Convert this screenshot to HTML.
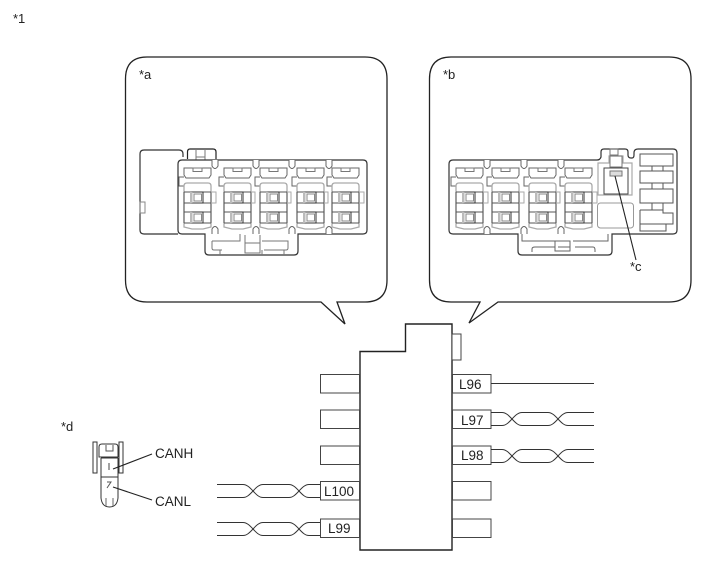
<!DOCTYPE html>
<html>
<head>
<meta charset="utf-8">
<style>
html,body{margin:0;padding:0;background:#fff;width:713px;height:581px;overflow:hidden}
svg{display:block}
text{font-family:"Liberation Sans",sans-serif;fill:#222;font-size:13px}
.big{font-size:13.5px}
</style>
</head>
<body>
<svg width="713" height="581" viewBox="0 0 713 581" xmlns="http://www.w3.org/2000/svg">
<defs>
<g id="cell" fill="none">
  <path d="M-14 -29H13V-22L11 -19H-12L-14 -22Z" stroke="#666" stroke-width="1"/>
  <rect x="-5" y="-29" width="9" height="3.500" stroke="#777" stroke-width="1"/>
  <path d="M-14 -20H-19V-11H-14" stroke="#666" stroke-width="1"/>
  <path d="M-14 -11Q-14 -14 -11 -14H10Q13 -14 13 -11V30L5 32H-6L-14 30Z" stroke="#aaa" stroke-width="1.300"/>
  <path d="M-14 -5H13M-14 6H13M-14 15H13M-14 26H13M-14 -5V26M13 -5V26" stroke="#555" stroke-width="1"/>
  <rect x="-6" y="-5" width="11" height="11" stroke="#333" stroke-width="1" fill="#fff"/>
  <rect x="-4" y="-3" width="7.500" height="7" stroke="#888" stroke-width="1"/>
  <rect x="-6" y="15" width="11" height="11" stroke="#333" stroke-width="1" fill="#fff"/>
  <rect x="-4" y="17" width="7.500" height="7" stroke="#888" stroke-width="1"/>
  <rect x="-8" y="-5" width="2.500" height="11" fill="#bbb"/>
  <rect x="-8" y="15" width="2.500" height="11" fill="#bbb"/>
</g>
<g id="notch" fill="#fff">
  <path d="M-3 0V6Q0 11 3 6V0" stroke="#666" stroke-width="1"/>
</g>
<g id="notchb" fill="#fff">
  <path d="M-3 0V-5Q0 -10 3 -5V0" stroke="#666" stroke-width="1"/>
</g>
</defs>

<rect width="713" height="581" fill="#fff"/>

<!-- Callouts -->
<path d="M147 57H365Q387 57 387 79V280Q387 302 365 302H337L345 324L321 302H147Q125.500 302 125.500 280V79Q125.500 57 147 57Z" fill="#fff" stroke="#222" stroke-width="1.300"/>
<path d="M451 57H669Q691 57 691 79V280Q691 302 669 302H498L469 323L480 302H451Q429.500 302 429.500 280V79Q429.500 57 451 57Z" fill="#fff" stroke="#222" stroke-width="1.300"/>

<!-- Connector a -->
<g fill="none">
  <path d="M183 157V154Q183 150 179 150H144Q140 150 140 154V230Q140 234 144 234H178" stroke="#333" stroke-width="1.200"/>
  <rect x="140" y="202" width="5" height="11" stroke="#888" stroke-width="1"/>
  <path d="M187.500 159V152Q187.500 149 190 149H213Q216 149 216 152V159" stroke="#222" stroke-width="1.200"/>
  <path d="M196 149V160M205 149V160M196 157H205" stroke="#777" stroke-width="1"/>
  <path d="M182 160H363Q367 160 367 164V230Q367 234 363 234H298V251Q298 255 294 255H209Q205 255 205 251V234H182Q178 234 178 230V164Q178 160 182 160Z" stroke="#333" stroke-width="1.200" fill="#fff"/>
  <use href="#cell" x="198" y="197"/>
  <use href="#cell" x="238" y="197"/>
  <use href="#cell" x="274" y="197"/>
  <use href="#cell" x="311" y="197"/>
  <use href="#cell" x="346" y="197"/>
  <path d="M211 192H216V203H211M251 192H255V203H251M287 192H291V203H287M324 192H328V203H324M359 192H364V203H359" stroke="#aaa" stroke-width="1"/>
  <use href="#notch" x="215" y="160"/>
  <use href="#notch" x="256" y="160"/>
  <use href="#notch" x="292" y="160"/>
  <use href="#notch" x="329" y="160"/>
  <use href="#notchb" x="215" y="234"/>
  <use href="#notchb" x="256" y="234"/>
  <use href="#notchb" x="292" y="234"/>
  <use href="#notchb" x="329" y="234"/>
  <path d="M212 241H240V234M212 241V248Q212 250 214 250H222M245 235V243H260V235M245 243V253H260V243M262 241H288V248Q288 250 286 250H264M220 250V255M262 250V255M284 250V255" stroke="#777" stroke-width="1"/>
</g>

<!-- Connector b -->
<g fill="none">
  <path d="M453 160H597Q600 160 601 157V152Q601 149 604 149H625Q628 149 628 152V155Q628 158 631 158H632Q634 158 634 155V153Q634 149 638 149H673Q677 149 677 153V230Q677 234 673 234H612V251Q612 255 608 255H522Q518 255 518 251V234H453Q449 234 449 230V164Q449 160 453 160Z" stroke="#333" stroke-width="1.200" fill="#fff"/>
  <use href="#cell" x="470" y="197"/>
  <use href="#cell" x="506" y="197"/>
  <use href="#cell" x="543" y="197"/>
  <use href="#cell" x="579" y="197"/>
  <path d="M483 192H488V203H483M519 192H524V203H519M556 192H560V203H556M592 192H597V203H592" stroke="#aaa" stroke-width="1"/>
  <use href="#notch" x="487" y="160"/>
  <use href="#notch" x="524" y="160"/>
  <use href="#notch" x="561" y="160"/>
  <use href="#notchb" x="487" y="234"/>
  <use href="#notchb" x="524" y="234"/>
  <use href="#notchb" x="561" y="234"/>
  <path d="M522 234V241H555M573 241H608V234M532 252V249Q532 247 535 247H555M575 247H593Q595 247 595 250V252M555 241H570V251H555ZM558 247H570" stroke="#666" stroke-width="1"/>
  <path d="M598 195V163H609V156H623V163H632V195Z" stroke="#aaa" stroke-width="1.200"/>
  <rect x="610" y="149" width="8" height="6" stroke="#777" stroke-width="1"/>
  <rect x="610" y="156" width="12" height="11" stroke="#777" stroke-width="1"/>
  <rect x="604" y="168" width="24" height="26" stroke="#444" stroke-width="1"/>
  <rect x="610" y="171" width="12" height="5" stroke="#777" stroke-width="1" fill="#ddd"/>
  <rect x="597.500" y="203" width="36" height="25" rx="3" stroke="#999" stroke-width="1"/>
  <path d="M640 154H673V166H640ZM640 171H673V183H640ZM640 189H673V203H640ZM663 203V213H673V224H663M640 210H663M640 210V231H666V224M640 224H663" stroke="#555" stroke-width="1"/>
  <path d="M652 166H663V171H652ZM652 183H663V189H652ZM652 203H663V210H652Z" stroke="#555" stroke-width="1"/>
</g>
<path d="M615 176L636 260" stroke="#222" stroke-width="1.100" fill="none"/>

<!-- Main block -->
<path d="M360 351.500H405.500V324H452V550H360Z" fill="#fff" stroke="#222" stroke-width="1.400"/>
<rect x="452" y="334" width="9" height="26" fill="#fff" stroke="#444" stroke-width="1"/>

<!-- Left connectors -->
<g fill="#fff" stroke="#444" stroke-width="1">
  <rect x="320.500" y="374.500" width="39" height="18.500"/>
  <rect x="320.500" y="410" width="39" height="18.500"/>
  <rect x="320.500" y="446" width="39" height="18.500"/>
  <rect x="320.500" y="481.500" width="39" height="18.500"/>
  <rect x="320.500" y="519" width="39" height="18.500"/>
</g>
<!-- Right connectors -->
<g fill="#fff" stroke="#444" stroke-width="1">
  <rect x="452.500" y="374.500" width="38.500" height="18.500"/>
  <rect x="452.500" y="410" width="38.500" height="18.500"/>
  <rect x="452.500" y="446" width="38.500" height="18.500"/>
  <rect x="452.500" y="481.500" width="38.500" height="18.500"/>
  <rect x="452.500" y="519" width="38.500" height="18.500"/>
</g>

<!-- Wires -->
<g fill="none" stroke="#333" stroke-width="1">
  <path d="M491 383.500H594"/>
  <path d="M491 412.500H502C510 412.500 514 425.500 522 425.500H548C556 425.500 560 412.500 568 412.500H594"/>
  <path d="M491 425.500H502C510 425.500 514 412.500 522 412.500H548C556 412.500 560 425.500 568 425.500H594"/>
  <path d="M491 449.500H502C510 449.500 514 462.500 522 462.500H548C556 462.500 560 449.500 568 449.500H594"/>
  <path d="M491 462.500H502C510 462.500 514 449.500 522 449.500H548C556 449.500 560 462.500 568 462.500H594"/>
  <path d="M217 484.500H243C251 484.500 255 497.500 263 497.500H289C297 497.500 301 484.500 309 484.500H320"/>
  <path d="M217 497.500H243C251 497.500 255 484.500 263 484.500H289C297 484.500 301 497.500 309 497.500H320"/>
  <path d="M217 522.500H243C251 522.500 255 535.500 263 535.500H289C297 535.500 301 522.500 309 522.500H320"/>
  <path d="M217 535.500H243C251 535.500 255 522.500 263 522.500H289C297 522.500 301 535.500 309 535.500H320"/>
</g>

<text class="big" x="459" y="389">L96</text>
<text class="big" x="461" y="425">L97</text>
<text class="big" x="461" y="460">L98</text>
<text class="big" x="324" y="496">L100</text>
<text class="big" x="328" y="533">L99</text>

<!-- CAN connector -->
<g fill="none" stroke="#333" stroke-width="1">
  <path d="M93 442H97V473H93ZM119 442H123V473H119Z"/>
  <path d="M99 457V447Q99 444 102 444H115Q118 444 118 447V457Z"/>
  <path d="M106 445V451H113V445" stroke="#555"/>
  <path d="M101 458V477H118V458M101 458H118M101 477H118"/>
  <path d="M109 463V470" stroke="#444"/>
  <path d="M101 477V498M118 477V498M101 498Q102 507 109.500 507Q117 507 118 498" stroke="#333"/>
  <path d="M106 498V506M113 498V506" stroke="#666"/>
  <path d="M107 482H111L107 488" stroke="#555"/>
  <path d="M113 469L152 454M113 487L152 500" stroke="#222" stroke-width="1.100"/>
</g>
<text class="big" x="155" y="458">CANH</text>
<text class="big" x="155" y="506">CANL</text>

<text x="13" y="23">*1</text>
<text x="139" y="79">*a</text>
<text x="443" y="79">*b</text>
<text x="630" y="271">*c</text>
<text x="61" y="431">*d</text>
</svg>
</body>
</html>
